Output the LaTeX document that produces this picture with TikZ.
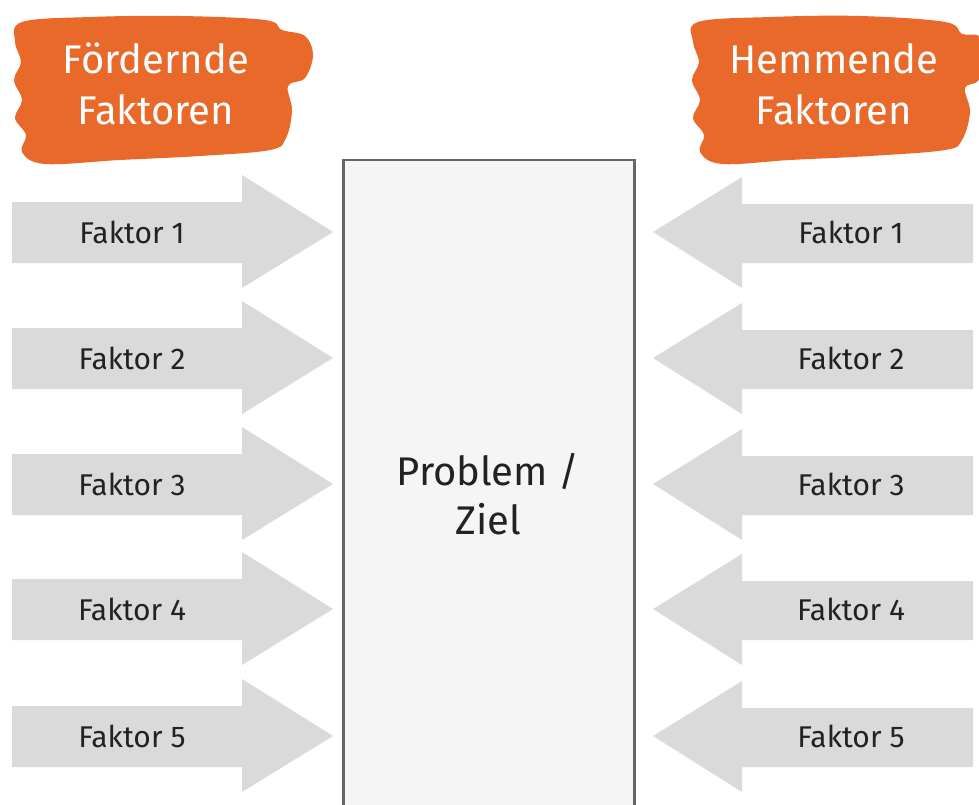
\documentclass[tikz,border=0pt]{standalone}
\usepackage{fontspec}
\setmainfont{Fira Sans}
\definecolor{blob}{HTML}{E8692A}
\definecolor{arr}{HTML}{DADADA}
\definecolor{boxfill}{HTML}{F5F5F5}
\definecolor{boxline}{HTML}{666666}
\definecolor{txt}{HTML}{222222}
\tikzset{
  arrowshape/.style={fill=arr, draw=none},
  faktor/.style={text=txt, font=\fontsize{30}{36}\selectfont, inner sep=0pt},
  heading/.style={text=white, font=\fontsize{40}{51}\selectfont, align=center, inner sep=0pt},
  blobshape/.style={fill=blob, draw=none},
}
\begin{document}
\begin{tikzpicture}[x=1pt,y=-1pt]
\useasboundingbox (0,0) rectangle (979,805);
\clip (0,0) rectangle (979,805);
\fill[white] (0,0) rectangle (979,805);
% orange blobs
\fill[blobshape] plot[smooth cycle, tension=0.6] coordinates {
  (22,22) (90,17) (180,16) (265,20) (282,30) (305,36) (313,55) (305,78) (288,86)
  (292,110) (286,138) (270,150) (200,156) (120,160) (45,164) (22,152)
  (26,135) (15,118) (22,100) (14,80) (21,62) (15,42)};
\fill[blobshape] plot[smooth cycle, tension=0.6] coordinates {
  (698,22) (770,17) (860,16) (945,22) (962,34) (979,36) (985,55) (979,80) (965,88)
  (970,112) (962,140) (945,150) (870,156) (790,160) (722,164) (700,152)
  (704,135) (693,118) (700,100) (692,80) (699,62) (693,42)};
\node[heading] (hl) at (156,84) {Fördernde\\Faktoren};
\node[heading] (hr) at (834,84) {Hemmende\\Faktoren};
% central box
\node[draw=boxline, line width=2.5pt, fill=boxfill, minimum width=291pt, minimum height=700pt, anchor=north west, inner sep=0pt] (box) at (342,159) {};
\node[text=txt, font=\fontsize{40}{49}\selectfont, align=center, inner sep=0pt] (ziel) at (488,494) {Problem /\\Ziel};
% arrows
\foreach \c [count=\i] in {232,358,484,609,736}{
  \fill[arrowshape] (12,\c-30) -- (242,\c-30) -- (242,\c-57) -- (333,\c) -- (242,\c+56) -- (242,\c+31) -- (12,\c+31) -- cycle;
  \node[faktor] (fl\i) at (132,\c) {Faktor \i};
  \fill[arrowshape] (973,\c-28) -- (742,\c-28) -- (742,\c-55) -- (653,\c) -- (742,\c+56) -- (742,\c+31) -- (973,\c+31) -- cycle;
  \node[faktor] (fr\i) at (851,\c) {Faktor \i};
}
\end{tikzpicture}
\end{document}
